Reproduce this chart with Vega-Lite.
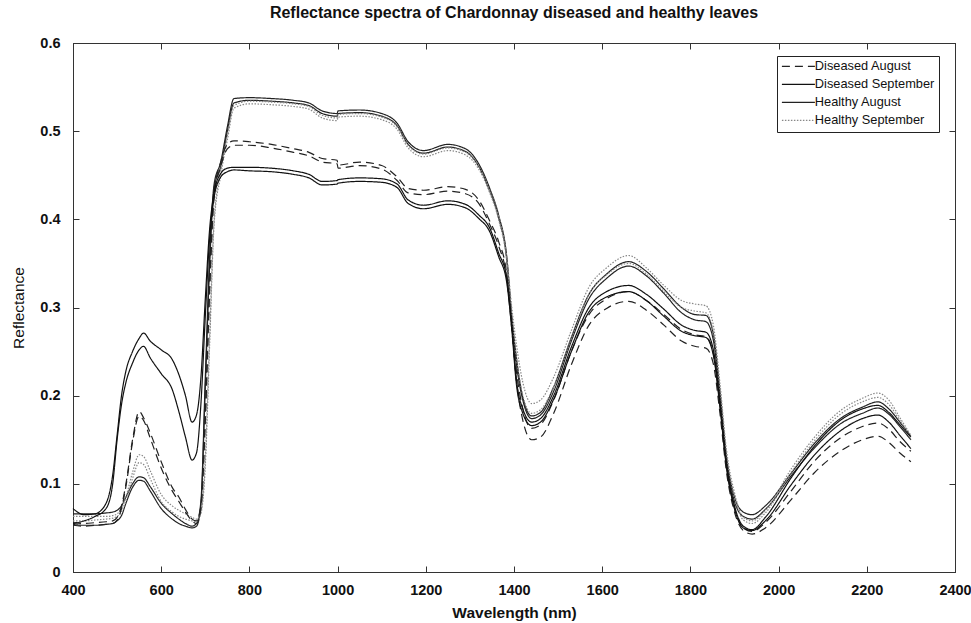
{
"$schema": "https://vega.github.io/schema/vega-lite/v6.json",
"width": 882, "height": 529,
"autosize": {"type": "none"},
"padding": {"left": 73, "top": 43, "right": 16, "bottom": 51},
"background": "white",
"title": {"text": "Reflectance spectra of Chardonnay diseased and healthy leaves", "font": "Liberation Sans", "fontSize": 16, "fontWeight": "bold", "color": "#111", "anchor": "middle", "offset": 14},
"config": {
  "view": {"stroke": "#333", "strokeWidth": 1},
  "axis": {"labelFont": "Liberation Sans", "labelFontSize": 14.5, "labelFontWeight": "bold", "labelColor": "#111", "labelFlush": false, "titleFont": "Liberation Sans", "titleFontSize": 15.5, "titleColor": "#111", "tickColor": "#333", "domainColor": "#333", "tickSize": -6, "grid": false}
},
"datasets": {"spectra": [
{"w":400,"s":"Healthy August","r":1,"v":0.066},{"w":425,"s":"Healthy August","r":1,"v":0.066},{"w":450,"s":"Healthy August","r":1,"v":0.066},{"w":475,"s":"Healthy August","r":1,"v":0.067},{"w":490,"s":"Healthy August","r":1,"v":0.068},{"w":500,"s":"Healthy August","r":1,"v":0.07},{"w":510,"s":"Healthy August","r":1,"v":0.075},{"w":520,"s":"Healthy August","r":1,"v":0.085},{"w":535,"s":"Healthy August","r":1,"v":0.1},{"w":550,"s":"Healthy August","r":1,"v":0.108},{"w":560,"s":"Healthy August","r":1,"v":0.107},{"w":575,"s":"Healthy August","r":1,"v":0.097},{"w":600,"s":"Healthy August","r":1,"v":0.078},{"w":625,"s":"Healthy August","r":1,"v":0.066},{"w":640,"s":"Healthy August","r":1,"v":0.06},{"w":655,"s":"Healthy August","r":1,"v":0.055},{"w":670,"s":"Healthy August","r":1,"v":0.052},{"w":680,"s":"Healthy August","r":1,"v":0.055},{"w":690,"s":"Healthy August","r":1,"v":0.08},{"w":700,"s":"Healthy August","r":1,"v":0.22},{"w":710,"s":"Healthy August","r":1,"v":0.36},{"w":720,"s":"Healthy August","r":1,"v":0.44},{"w":735,"s":"Healthy August","r":1,"v":0.465},{"w":750,"s":"Healthy August","r":1,"v":0.505},{"w":765,"s":"Healthy August","r":1,"v":0.537},{"w":800,"s":"Healthy August","r":1,"v":0.538},{"w":850,"s":"Healthy August","r":1,"v":0.537},{"w":900,"s":"Healthy August","r":1,"v":0.535},{"w":935,"s":"Healthy August","r":1,"v":0.532},{"w":965,"s":"Healthy August","r":1,"v":0.523},{"w":999,"s":"Healthy August","r":1,"v":0.52},{"w":1001,"s":"Healthy August","r":1,"v":0.523},{"w":1050,"s":"Healthy August","r":1,"v":0.524},{"w":1100,"s":"Healthy August","r":1,"v":0.52},{"w":1135,"s":"Healthy August","r":1,"v":0.509},{"w":1160,"s":"Healthy August","r":1,"v":0.488},{"w":1195,"s":"Healthy August","r":1,"v":0.478},{"w":1250,"s":"Healthy August","r":1,"v":0.485},{"w":1290,"s":"Healthy August","r":1,"v":0.48},{"w":1320,"s":"Healthy August","r":1,"v":0.463},{"w":1345,"s":"Healthy August","r":1,"v":0.435},{"w":1365,"s":"Healthy August","r":1,"v":0.405},{"w":1383,"s":"Healthy August","r":1,"v":0.36},{"w":1395,"s":"Healthy August","r":1,"v":0.29},{"w":1405,"s":"Healthy August","r":1,"v":0.245},{"w":1420,"s":"Healthy August","r":1,"v":0.198},{"w":1440,"s":"Healthy August","r":1,"v":0.177},{"w":1460,"s":"Healthy August","r":1,"v":0.181},{"w":1490,"s":"Healthy August","r":1,"v":0.21},{"w":1530,"s":"Healthy August","r":1,"v":0.266},{"w":1570,"s":"Healthy August","r":1,"v":0.315},{"w":1610,"s":"Healthy August","r":1,"v":0.338},{"w":1660,"s":"Healthy August","r":1,"v":0.352},{"w":1700,"s":"Healthy August","r":1,"v":0.341},{"w":1740,"s":"Healthy August","r":1,"v":0.321},{"w":1780,"s":"Healthy August","r":1,"v":0.3},{"w":1810,"s":"Healthy August","r":1,"v":0.292},{"w":1835,"s":"Healthy August","r":1,"v":0.291},{"w":1852,"s":"Healthy August","r":1,"v":0.27},{"w":1867,"s":"Healthy August","r":1,"v":0.205},{"w":1882,"s":"Healthy August","r":1,"v":0.13},{"w":1900,"s":"Healthy August","r":1,"v":0.085},{"w":1920,"s":"Healthy August","r":1,"v":0.068},{"w":1940,"s":"Healthy August","r":1,"v":0.065},{"w":1970,"s":"Healthy August","r":1,"v":0.075},{"w":2030,"s":"Healthy August","r":1,"v":0.113},{"w":2080,"s":"Healthy August","r":1,"v":0.145},{"w":2140,"s":"Healthy August","r":1,"v":0.174},{"w":2190,"s":"Healthy August","r":1,"v":0.187},{"w":2225,"s":"Healthy August","r":1,"v":0.193},{"w":2250,"s":"Healthy August","r":1,"v":0.185},{"w":2275,"s":"Healthy August","r":1,"v":0.17},{"w":2300,"s":"Healthy August","r":1,"v":0.154},
{"w":400,"s":"Healthy August","r":2,"v":0.054},{"w":425,"s":"Healthy August","r":2,"v":0.053},{"w":450,"s":"Healthy August","r":2,"v":0.053},{"w":475,"s":"Healthy August","r":2,"v":0.054},{"w":490,"s":"Healthy August","r":2,"v":0.055},{"w":500,"s":"Healthy August","r":2,"v":0.058},{"w":510,"s":"Healthy August","r":2,"v":0.064},{"w":520,"s":"Healthy August","r":2,"v":0.078},{"w":535,"s":"Healthy August","r":2,"v":0.096},{"w":550,"s":"Healthy August","r":2,"v":0.104},{"w":560,"s":"Healthy August","r":2,"v":0.103},{"w":575,"s":"Healthy August","r":2,"v":0.092},{"w":600,"s":"Healthy August","r":2,"v":0.072},{"w":625,"s":"Healthy August","r":2,"v":0.06},{"w":640,"s":"Healthy August","r":2,"v":0.055},{"w":655,"s":"Healthy August","r":2,"v":0.052},{"w":670,"s":"Healthy August","r":2,"v":0.05},{"w":680,"s":"Healthy August","r":2,"v":0.052},{"w":690,"s":"Healthy August","r":2,"v":0.075},{"w":700,"s":"Healthy August","r":2,"v":0.21},{"w":710,"s":"Healthy August","r":2,"v":0.35},{"w":720,"s":"Healthy August","r":2,"v":0.435},{"w":735,"s":"Healthy August","r":2,"v":0.46},{"w":750,"s":"Healthy August","r":2,"v":0.5},{"w":765,"s":"Healthy August","r":2,"v":0.532},{"w":800,"s":"Healthy August","r":2,"v":0.535},{"w":850,"s":"Healthy August","r":2,"v":0.534},{"w":900,"s":"Healthy August","r":2,"v":0.532},{"w":935,"s":"Healthy August","r":2,"v":0.529},{"w":965,"s":"Healthy August","r":2,"v":0.52},{"w":999,"s":"Healthy August","r":2,"v":0.517},{"w":1001,"s":"Healthy August","r":2,"v":0.52},{"w":1050,"s":"Healthy August","r":2,"v":0.521},{"w":1100,"s":"Healthy August","r":2,"v":0.517},{"w":1135,"s":"Healthy August","r":2,"v":0.506},{"w":1160,"s":"Healthy August","r":2,"v":0.485},{"w":1195,"s":"Healthy August","r":2,"v":0.475},{"w":1250,"s":"Healthy August","r":2,"v":0.482},{"w":1290,"s":"Healthy August","r":2,"v":0.477},{"w":1320,"s":"Healthy August","r":2,"v":0.46},{"w":1345,"s":"Healthy August","r":2,"v":0.432},{"w":1365,"s":"Healthy August","r":2,"v":0.402},{"w":1383,"s":"Healthy August","r":2,"v":0.357},{"w":1395,"s":"Healthy August","r":2,"v":0.287},{"w":1405,"s":"Healthy August","r":2,"v":0.238},{"w":1420,"s":"Healthy August","r":2,"v":0.195},{"w":1440,"s":"Healthy August","r":2,"v":0.174},{"w":1460,"s":"Healthy August","r":2,"v":0.178},{"w":1490,"s":"Healthy August","r":2,"v":0.205},{"w":1530,"s":"Healthy August","r":2,"v":0.262},{"w":1570,"s":"Healthy August","r":2,"v":0.31},{"w":1610,"s":"Healthy August","r":2,"v":0.333},{"w":1660,"s":"Healthy August","r":2,"v":0.347},{"w":1700,"s":"Healthy August","r":2,"v":0.336},{"w":1740,"s":"Healthy August","r":2,"v":0.316},{"w":1780,"s":"Healthy August","r":2,"v":0.294},{"w":1810,"s":"Healthy August","r":2,"v":0.286},{"w":1835,"s":"Healthy August","r":2,"v":0.284},{"w":1852,"s":"Healthy August","r":2,"v":0.263},{"w":1867,"s":"Healthy August","r":2,"v":0.2},{"w":1882,"s":"Healthy August","r":2,"v":0.128},{"w":1900,"s":"Healthy August","r":2,"v":0.08},{"w":1920,"s":"Healthy August","r":2,"v":0.063},{"w":1940,"s":"Healthy August","r":2,"v":0.06},{"w":1970,"s":"Healthy August","r":2,"v":0.071},{"w":2030,"s":"Healthy August","r":2,"v":0.11},{"w":2080,"s":"Healthy August","r":2,"v":0.14},{"w":2140,"s":"Healthy August","r":2,"v":0.168},{"w":2190,"s":"Healthy August","r":2,"v":0.18},{"w":2225,"s":"Healthy August","r":2,"v":0.186},{"w":2250,"s":"Healthy August","r":2,"v":0.179},{"w":2275,"s":"Healthy August","r":2,"v":0.165},{"w":2300,"s":"Healthy August","r":2,"v":0.15},
{"w":400,"s":"Healthy September","r":1,"v":0.063},{"w":425,"s":"Healthy September","r":1,"v":0.063},{"w":450,"s":"Healthy September","r":1,"v":0.063},{"w":475,"s":"Healthy September","r":1,"v":0.063},{"w":490,"s":"Healthy September","r":1,"v":0.064},{"w":500,"s":"Healthy September","r":1,"v":0.066},{"w":510,"s":"Healthy September","r":1,"v":0.072},{"w":520,"s":"Healthy September","r":1,"v":0.085},{"w":535,"s":"Healthy September","r":1,"v":0.113},{"w":550,"s":"Healthy September","r":1,"v":0.133},{"w":560,"s":"Healthy September","r":1,"v":0.131},{"w":575,"s":"Healthy September","r":1,"v":0.115},{"w":600,"s":"Healthy September","r":1,"v":0.088},{"w":625,"s":"Healthy September","r":1,"v":0.075},{"w":640,"s":"Healthy September","r":1,"v":0.07},{"w":655,"s":"Healthy September","r":1,"v":0.066},{"w":670,"s":"Healthy September","r":1,"v":0.062},{"w":680,"s":"Healthy September","r":1,"v":0.06},{"w":690,"s":"Healthy September","r":1,"v":0.068},{"w":700,"s":"Healthy September","r":1,"v":0.13},{"w":710,"s":"Healthy September","r":1,"v":0.27},{"w":720,"s":"Healthy September","r":1,"v":0.4},{"w":735,"s":"Healthy September","r":1,"v":0.455},{"w":750,"s":"Healthy September","r":1,"v":0.495},{"w":765,"s":"Healthy September","r":1,"v":0.529},{"w":800,"s":"Healthy September","r":1,"v":0.534},{"w":850,"s":"Healthy September","r":1,"v":0.533},{"w":900,"s":"Healthy September","r":1,"v":0.531},{"w":935,"s":"Healthy September","r":1,"v":0.528},{"w":965,"s":"Healthy September","r":1,"v":0.518},{"w":999,"s":"Healthy September","r":1,"v":0.515},{"w":1001,"s":"Healthy September","r":1,"v":0.519},{"w":1050,"s":"Healthy September","r":1,"v":0.52},{"w":1100,"s":"Healthy September","r":1,"v":0.516},{"w":1135,"s":"Healthy September","r":1,"v":0.505},{"w":1160,"s":"Healthy September","r":1,"v":0.484},{"w":1195,"s":"Healthy September","r":1,"v":0.474},{"w":1250,"s":"Healthy September","r":1,"v":0.481},{"w":1290,"s":"Healthy September","r":1,"v":0.476},{"w":1320,"s":"Healthy September","r":1,"v":0.46},{"w":1345,"s":"Healthy September","r":1,"v":0.433},{"w":1365,"s":"Healthy September","r":1,"v":0.404},{"w":1383,"s":"Healthy September","r":1,"v":0.36},{"w":1395,"s":"Healthy September","r":1,"v":0.3},{"w":1405,"s":"Healthy September","r":1,"v":0.26},{"w":1420,"s":"Healthy September","r":1,"v":0.215},{"w":1440,"s":"Healthy September","r":1,"v":0.191},{"w":1460,"s":"Healthy September","r":1,"v":0.195},{"w":1490,"s":"Healthy September","r":1,"v":0.221},{"w":1530,"s":"Healthy September","r":1,"v":0.274},{"w":1570,"s":"Healthy September","r":1,"v":0.323},{"w":1610,"s":"Healthy September","r":1,"v":0.345},{"w":1660,"s":"Healthy September","r":1,"v":0.359},{"w":1700,"s":"Healthy September","r":1,"v":0.345},{"w":1740,"s":"Healthy September","r":1,"v":0.325},{"w":1780,"s":"Healthy September","r":1,"v":0.308},{"w":1810,"s":"Healthy September","r":1,"v":0.304},{"w":1835,"s":"Healthy September","r":1,"v":0.302},{"w":1852,"s":"Healthy September","r":1,"v":0.28},{"w":1867,"s":"Healthy September","r":1,"v":0.214},{"w":1882,"s":"Healthy September","r":1,"v":0.138},{"w":1900,"s":"Healthy September","r":1,"v":0.09},{"w":1920,"s":"Healthy September","r":1,"v":0.062},{"w":1940,"s":"Healthy September","r":1,"v":0.058},{"w":1970,"s":"Healthy September","r":1,"v":0.07},{"w":2030,"s":"Healthy September","r":1,"v":0.118},{"w":2080,"s":"Healthy September","r":1,"v":0.152},{"w":2140,"s":"Healthy September","r":1,"v":0.183},{"w":2190,"s":"Healthy September","r":1,"v":0.197},{"w":2225,"s":"Healthy September","r":1,"v":0.203},{"w":2250,"s":"Healthy September","r":1,"v":0.195},{"w":2275,"s":"Healthy September","r":1,"v":0.175},{"w":2300,"s":"Healthy September","r":1,"v":0.155},
{"w":400,"s":"Healthy September","r":2,"v":0.058},{"w":425,"s":"Healthy September","r":2,"v":0.058},{"w":450,"s":"Healthy September","r":2,"v":0.059},{"w":475,"s":"Healthy September","r":2,"v":0.06},{"w":490,"s":"Healthy September","r":2,"v":0.061},{"w":500,"s":"Healthy September","r":2,"v":0.063},{"w":510,"s":"Healthy September","r":2,"v":0.068},{"w":520,"s":"Healthy September","r":2,"v":0.08},{"w":535,"s":"Healthy September","r":2,"v":0.106},{"w":550,"s":"Healthy September","r":2,"v":0.124},{"w":560,"s":"Healthy September","r":2,"v":0.122},{"w":575,"s":"Healthy September","r":2,"v":0.106},{"w":600,"s":"Healthy September","r":2,"v":0.08},{"w":625,"s":"Healthy September","r":2,"v":0.068},{"w":640,"s":"Healthy September","r":2,"v":0.063},{"w":655,"s":"Healthy September","r":2,"v":0.06},{"w":670,"s":"Healthy September","r":2,"v":0.058},{"w":680,"s":"Healthy September","r":2,"v":0.057},{"w":690,"s":"Healthy September","r":2,"v":0.066},{"w":700,"s":"Healthy September","r":2,"v":0.12},{"w":710,"s":"Healthy September","r":2,"v":0.26},{"w":720,"s":"Healthy September","r":2,"v":0.395},{"w":735,"s":"Healthy September","r":2,"v":0.45},{"w":750,"s":"Healthy September","r":2,"v":0.49},{"w":765,"s":"Healthy September","r":2,"v":0.526},{"w":800,"s":"Healthy September","r":2,"v":0.531},{"w":850,"s":"Healthy September","r":2,"v":0.53},{"w":900,"s":"Healthy September","r":2,"v":0.528},{"w":935,"s":"Healthy September","r":2,"v":0.525},{"w":965,"s":"Healthy September","r":2,"v":0.515},{"w":999,"s":"Healthy September","r":2,"v":0.512},{"w":1001,"s":"Healthy September","r":2,"v":0.516},{"w":1050,"s":"Healthy September","r":2,"v":0.517},{"w":1100,"s":"Healthy September","r":2,"v":0.513},{"w":1135,"s":"Healthy September","r":2,"v":0.502},{"w":1160,"s":"Healthy September","r":2,"v":0.481},{"w":1195,"s":"Healthy September","r":2,"v":0.471},{"w":1250,"s":"Healthy September","r":2,"v":0.478},{"w":1290,"s":"Healthy September","r":2,"v":0.473},{"w":1320,"s":"Healthy September","r":2,"v":0.457},{"w":1345,"s":"Healthy September","r":2,"v":0.43},{"w":1365,"s":"Healthy September","r":2,"v":0.4},{"w":1383,"s":"Healthy September","r":2,"v":0.355},{"w":1395,"s":"Healthy September","r":2,"v":0.29},{"w":1405,"s":"Healthy September","r":2,"v":0.245},{"w":1420,"s":"Healthy September","r":2,"v":0.2},{"w":1440,"s":"Healthy September","r":2,"v":0.18},{"w":1460,"s":"Healthy September","r":2,"v":0.184},{"w":1490,"s":"Healthy September","r":2,"v":0.21},{"w":1530,"s":"Healthy September","r":2,"v":0.265},{"w":1570,"s":"Healthy September","r":2,"v":0.315},{"w":1610,"s":"Healthy September","r":2,"v":0.337},{"w":1660,"s":"Healthy September","r":2,"v":0.35},{"w":1700,"s":"Healthy September","r":2,"v":0.338},{"w":1740,"s":"Healthy September","r":2,"v":0.318},{"w":1780,"s":"Healthy September","r":2,"v":0.3},{"w":1810,"s":"Healthy September","r":2,"v":0.296},{"w":1835,"s":"Healthy September","r":2,"v":0.294},{"w":1852,"s":"Healthy September","r":2,"v":0.272},{"w":1867,"s":"Healthy September","r":2,"v":0.208},{"w":1882,"s":"Healthy September","r":2,"v":0.133},{"w":1900,"s":"Healthy September","r":2,"v":0.085},{"w":1920,"s":"Healthy September","r":2,"v":0.059},{"w":1940,"s":"Healthy September","r":2,"v":0.055},{"w":1970,"s":"Healthy September","r":2,"v":0.067},{"w":2030,"s":"Healthy September","r":2,"v":0.114},{"w":2080,"s":"Healthy September","r":2,"v":0.148},{"w":2140,"s":"Healthy September","r":2,"v":0.179},{"w":2190,"s":"Healthy September","r":2,"v":0.193},{"w":2225,"s":"Healthy September","r":2,"v":0.198},{"w":2250,"s":"Healthy September","r":2,"v":0.19},{"w":2275,"s":"Healthy September","r":2,"v":0.172},{"w":2300,"s":"Healthy September","r":2,"v":0.153},
{"w":400,"s":"Diseased August","r":1,"v":0.056},{"w":425,"s":"Diseased August","r":1,"v":0.055},{"w":450,"s":"Diseased August","r":1,"v":0.056},{"w":475,"s":"Diseased August","r":1,"v":0.057},{"w":490,"s":"Diseased August","r":1,"v":0.058},{"w":500,"s":"Diseased August","r":1,"v":0.062},{"w":510,"s":"Diseased August","r":1,"v":0.075},{"w":520,"s":"Diseased August","r":1,"v":0.1},{"w":535,"s":"Diseased August","r":1,"v":0.15},{"w":550,"s":"Diseased August","r":1,"v":0.182},{"w":560,"s":"Diseased August","r":1,"v":0.175},{"w":575,"s":"Diseased August","r":1,"v":0.158},{"w":600,"s":"Diseased August","r":1,"v":0.125},{"w":625,"s":"Diseased August","r":1,"v":0.096},{"w":640,"s":"Diseased August","r":1,"v":0.085},{"w":655,"s":"Diseased August","r":1,"v":0.071},{"w":670,"s":"Diseased August","r":1,"v":0.06},{"w":680,"s":"Diseased August","r":1,"v":0.058},{"w":690,"s":"Diseased August","r":1,"v":0.075},{"w":700,"s":"Diseased August","r":1,"v":0.18},{"w":710,"s":"Diseased August","r":1,"v":0.33},{"w":720,"s":"Diseased August","r":1,"v":0.43},{"w":735,"s":"Diseased August","r":1,"v":0.465},{"w":750,"s":"Diseased August","r":1,"v":0.485},{"w":765,"s":"Diseased August","r":1,"v":0.489},{"w":800,"s":"Diseased August","r":1,"v":0.488},{"w":850,"s":"Diseased August","r":1,"v":0.485},{"w":900,"s":"Diseased August","r":1,"v":0.48},{"w":935,"s":"Diseased August","r":1,"v":0.476},{"w":965,"s":"Diseased August","r":1,"v":0.469},{"w":999,"s":"Diseased August","r":1,"v":0.467},{"w":1001,"s":"Diseased August","r":1,"v":0.4615},{"w":1050,"s":"Diseased August","r":1,"v":0.465},{"w":1100,"s":"Diseased August","r":1,"v":0.461},{"w":1135,"s":"Diseased August","r":1,"v":0.448},{"w":1160,"s":"Diseased August","r":1,"v":0.435},{"w":1195,"s":"Diseased August","r":1,"v":0.433},{"w":1250,"s":"Diseased August","r":1,"v":0.437},{"w":1290,"s":"Diseased August","r":1,"v":0.434},{"w":1320,"s":"Diseased August","r":1,"v":0.422},{"w":1345,"s":"Diseased August","r":1,"v":0.398},{"w":1365,"s":"Diseased August","r":1,"v":0.375},{"w":1383,"s":"Diseased August","r":1,"v":0.34},{"w":1395,"s":"Diseased August","r":1,"v":0.28},{"w":1405,"s":"Diseased August","r":1,"v":0.23},{"w":1420,"s":"Diseased August","r":1,"v":0.185},{"w":1440,"s":"Diseased August","r":1,"v":0.163},{"w":1460,"s":"Diseased August","r":1,"v":0.167},{"w":1490,"s":"Diseased August","r":1,"v":0.195},{"w":1530,"s":"Diseased August","r":1,"v":0.25},{"w":1570,"s":"Diseased August","r":1,"v":0.292},{"w":1610,"s":"Diseased August","r":1,"v":0.31},{"w":1660,"s":"Diseased August","r":1,"v":0.318},{"w":1700,"s":"Diseased August","r":1,"v":0.308},{"w":1740,"s":"Diseased August","r":1,"v":0.292},{"w":1780,"s":"Diseased August","r":1,"v":0.275},{"w":1810,"s":"Diseased August","r":1,"v":0.269},{"w":1835,"s":"Diseased August","r":1,"v":0.267},{"w":1852,"s":"Diseased August","r":1,"v":0.248},{"w":1867,"s":"Diseased August","r":1,"v":0.19},{"w":1882,"s":"Diseased August","r":1,"v":0.12},{"w":1900,"s":"Diseased August","r":1,"v":0.072},{"w":1920,"s":"Diseased August","r":1,"v":0.05},{"w":1940,"s":"Diseased August","r":1,"v":0.046},{"w":1970,"s":"Diseased August","r":1,"v":0.056},{"w":2030,"s":"Diseased August","r":1,"v":0.093},{"w":2080,"s":"Diseased August","r":1,"v":0.125},{"w":2140,"s":"Diseased August","r":1,"v":0.152},{"w":2190,"s":"Diseased August","r":1,"v":0.165},{"w":2225,"s":"Diseased August","r":1,"v":0.169},{"w":2250,"s":"Diseased August","r":1,"v":0.162},{"w":2275,"s":"Diseased August","r":1,"v":0.148},{"w":2300,"s":"Diseased August","r":1,"v":0.137},
{"w":400,"s":"Diseased August","r":2,"v":0.053},{"w":425,"s":"Diseased August","r":2,"v":0.052},{"w":450,"s":"Diseased August","r":2,"v":0.053},{"w":475,"s":"Diseased August","r":2,"v":0.054},{"w":490,"s":"Diseased August","r":2,"v":0.055},{"w":500,"s":"Diseased August","r":2,"v":0.059},{"w":510,"s":"Diseased August","r":2,"v":0.072},{"w":520,"s":"Diseased August","r":2,"v":0.097},{"w":535,"s":"Diseased August","r":2,"v":0.147},{"w":550,"s":"Diseased August","r":2,"v":0.177},{"w":560,"s":"Diseased August","r":2,"v":0.172},{"w":575,"s":"Diseased August","r":2,"v":0.152},{"w":600,"s":"Diseased August","r":2,"v":0.118},{"w":625,"s":"Diseased August","r":2,"v":0.092},{"w":640,"s":"Diseased August","r":2,"v":0.08},{"w":655,"s":"Diseased August","r":2,"v":0.068},{"w":670,"s":"Diseased August","r":2,"v":0.058},{"w":680,"s":"Diseased August","r":2,"v":0.055},{"w":690,"s":"Diseased August","r":2,"v":0.072},{"w":700,"s":"Diseased August","r":2,"v":0.17},{"w":710,"s":"Diseased August","r":2,"v":0.32},{"w":720,"s":"Diseased August","r":2,"v":0.425},{"w":735,"s":"Diseased August","r":2,"v":0.46},{"w":750,"s":"Diseased August","r":2,"v":0.48},{"w":765,"s":"Diseased August","r":2,"v":0.484},{"w":800,"s":"Diseased August","r":2,"v":0.484},{"w":850,"s":"Diseased August","r":2,"v":0.481},{"w":900,"s":"Diseased August","r":2,"v":0.476},{"w":935,"s":"Diseased August","r":2,"v":0.472},{"w":965,"s":"Diseased August","r":2,"v":0.465},{"w":999,"s":"Diseased August","r":2,"v":0.463},{"w":1001,"s":"Diseased August","r":2,"v":0.458},{"w":1050,"s":"Diseased August","r":2,"v":0.461},{"w":1100,"s":"Diseased August","r":2,"v":0.457},{"w":1135,"s":"Diseased August","r":2,"v":0.444},{"w":1160,"s":"Diseased August","r":2,"v":0.43},{"w":1195,"s":"Diseased August","r":2,"v":0.428},{"w":1250,"s":"Diseased August","r":2,"v":0.432},{"w":1290,"s":"Diseased August","r":2,"v":0.429},{"w":1320,"s":"Diseased August","r":2,"v":0.418},{"w":1345,"s":"Diseased August","r":2,"v":0.394},{"w":1365,"s":"Diseased August","r":2,"v":0.37},{"w":1383,"s":"Diseased August","r":2,"v":0.335},{"w":1395,"s":"Diseased August","r":2,"v":0.275},{"w":1405,"s":"Diseased August","r":2,"v":0.22},{"w":1420,"s":"Diseased August","r":2,"v":0.172},{"w":1440,"s":"Diseased August","r":2,"v":0.15},{"w":1460,"s":"Diseased August","r":2,"v":0.153},{"w":1490,"s":"Diseased August","r":2,"v":0.18},{"w":1530,"s":"Diseased August","r":2,"v":0.235},{"w":1570,"s":"Diseased August","r":2,"v":0.28},{"w":1610,"s":"Diseased August","r":2,"v":0.299},{"w":1660,"s":"Diseased August","r":2,"v":0.307},{"w":1700,"s":"Diseased August","r":2,"v":0.297},{"w":1740,"s":"Diseased August","r":2,"v":0.28},{"w":1780,"s":"Diseased August","r":2,"v":0.262},{"w":1810,"s":"Diseased August","r":2,"v":0.256},{"w":1835,"s":"Diseased August","r":2,"v":0.254},{"w":1852,"s":"Diseased August","r":2,"v":0.236},{"w":1867,"s":"Diseased August","r":2,"v":0.18},{"w":1882,"s":"Diseased August","r":2,"v":0.113},{"w":1900,"s":"Diseased August","r":2,"v":0.068},{"w":1920,"s":"Diseased August","r":2,"v":0.047},{"w":1940,"s":"Diseased August","r":2,"v":0.043},{"w":1970,"s":"Diseased August","r":2,"v":0.05},{"w":2030,"s":"Diseased August","r":2,"v":0.083},{"w":2080,"s":"Diseased August","r":2,"v":0.112},{"w":2140,"s":"Diseased August","r":2,"v":0.137},{"w":2190,"s":"Diseased August","r":2,"v":0.15},{"w":2225,"s":"Diseased August","r":2,"v":0.154},{"w":2250,"s":"Diseased August","r":2,"v":0.147},{"w":2275,"s":"Diseased August","r":2,"v":0.135},{"w":2300,"s":"Diseased August","r":2,"v":0.125},
{"w":400,"s":"Diseased September","r":1,"v":0.072},{"w":425,"s":"Diseased September","r":1,"v":0.065},{"w":450,"s":"Diseased September","r":1,"v":0.066},{"w":475,"s":"Diseased September","r":1,"v":0.078},{"w":490,"s":"Diseased September","r":1,"v":0.11},{"w":500,"s":"Diseased September","r":1,"v":0.155},{"w":510,"s":"Diseased September","r":1,"v":0.2},{"w":520,"s":"Diseased September","r":1,"v":0.228},{"w":535,"s":"Diseased September","r":1,"v":0.25},{"w":550,"s":"Diseased September","r":1,"v":0.265},{"w":560,"s":"Diseased September","r":1,"v":0.271},{"w":575,"s":"Diseased September","r":1,"v":0.262},{"w":600,"s":"Diseased September","r":1,"v":0.252},{"w":625,"s":"Diseased September","r":1,"v":0.241},{"w":640,"s":"Diseased September","r":1,"v":0.224},{"w":655,"s":"Diseased September","r":1,"v":0.2},{"w":670,"s":"Diseased September","r":1,"v":0.17},{"w":680,"s":"Diseased September","r":1,"v":0.178},{"w":690,"s":"Diseased September","r":1,"v":0.22},{"w":700,"s":"Diseased September","r":1,"v":0.31},{"w":710,"s":"Diseased September","r":1,"v":0.39},{"w":720,"s":"Diseased September","r":1,"v":0.43},{"w":735,"s":"Diseased September","r":1,"v":0.452},{"w":750,"s":"Diseased September","r":1,"v":0.458},{"w":765,"s":"Diseased September","r":1,"v":0.459},{"w":800,"s":"Diseased September","r":1,"v":0.459},{"w":850,"s":"Diseased September","r":1,"v":0.458},{"w":900,"s":"Diseased September","r":1,"v":0.455},{"w":935,"s":"Diseased September","r":1,"v":0.451},{"w":965,"s":"Diseased September","r":1,"v":0.443},{"w":999,"s":"Diseased September","r":1,"v":0.444},{"w":1001,"s":"Diseased September","r":1,"v":0.445},{"w":1050,"s":"Diseased September","r":1,"v":0.447},{"w":1100,"s":"Diseased September","r":1,"v":0.446},{"w":1135,"s":"Diseased September","r":1,"v":0.44},{"w":1160,"s":"Diseased September","r":1,"v":0.422},{"w":1195,"s":"Diseased September","r":1,"v":0.416},{"w":1250,"s":"Diseased September","r":1,"v":0.421},{"w":1290,"s":"Diseased September","r":1,"v":0.417},{"w":1320,"s":"Diseased September","r":1,"v":0.405},{"w":1345,"s":"Diseased September","r":1,"v":0.39},{"w":1365,"s":"Diseased September","r":1,"v":0.362},{"w":1383,"s":"Diseased September","r":1,"v":0.335},{"w":1395,"s":"Diseased September","r":1,"v":0.28},{"w":1405,"s":"Diseased September","r":1,"v":0.22},{"w":1420,"s":"Diseased September","r":1,"v":0.185},{"w":1440,"s":"Diseased September","r":1,"v":0.17},{"w":1460,"s":"Diseased September","r":1,"v":0.174},{"w":1490,"s":"Diseased September","r":1,"v":0.2},{"w":1530,"s":"Diseased September","r":1,"v":0.255},{"w":1570,"s":"Diseased September","r":1,"v":0.3},{"w":1610,"s":"Diseased September","r":1,"v":0.318},{"w":1660,"s":"Diseased September","r":1,"v":0.325},{"w":1700,"s":"Diseased September","r":1,"v":0.315},{"w":1740,"s":"Diseased September","r":1,"v":0.298},{"w":1780,"s":"Diseased September","r":1,"v":0.28},{"w":1810,"s":"Diseased September","r":1,"v":0.274},{"w":1835,"s":"Diseased September","r":1,"v":0.272},{"w":1852,"s":"Diseased September","r":1,"v":0.252},{"w":1867,"s":"Diseased September","r":1,"v":0.192},{"w":1882,"s":"Diseased September","r":1,"v":0.122},{"w":1900,"s":"Diseased September","r":1,"v":0.075},{"w":1920,"s":"Diseased September","r":1,"v":0.052},{"w":1940,"s":"Diseased September","r":1,"v":0.048},{"w":1970,"s":"Diseased September","r":1,"v":0.062},{"w":2030,"s":"Diseased September","r":1,"v":0.108},{"w":2080,"s":"Diseased September","r":1,"v":0.142},{"w":2140,"s":"Diseased September","r":1,"v":0.172},{"w":2190,"s":"Diseased September","r":1,"v":0.185},{"w":2225,"s":"Diseased September","r":1,"v":0.189},{"w":2250,"s":"Diseased September","r":1,"v":0.181},{"w":2275,"s":"Diseased September","r":1,"v":0.167},{"w":2300,"s":"Diseased September","r":1,"v":0.153},
{"w":400,"s":"Diseased September","r":2,"v":0.055},{"w":425,"s":"Diseased September","r":2,"v":0.058},{"w":450,"s":"Diseased September","r":2,"v":0.063},{"w":475,"s":"Diseased September","r":2,"v":0.072},{"w":490,"s":"Diseased September","r":2,"v":0.1},{"w":500,"s":"Diseased September","r":2,"v":0.15},{"w":510,"s":"Diseased September","r":2,"v":0.19},{"w":520,"s":"Diseased September","r":2,"v":0.215},{"w":535,"s":"Diseased September","r":2,"v":0.237},{"w":550,"s":"Diseased September","r":2,"v":0.252},{"w":560,"s":"Diseased September","r":2,"v":0.256},{"w":575,"s":"Diseased September","r":2,"v":0.243},{"w":600,"s":"Diseased September","r":2,"v":0.225},{"w":625,"s":"Diseased September","r":2,"v":0.207},{"w":640,"s":"Diseased September","r":2,"v":0.182},{"w":655,"s":"Diseased September","r":2,"v":0.153},{"w":670,"s":"Diseased September","r":2,"v":0.127},{"w":680,"s":"Diseased September","r":2,"v":0.135},{"w":690,"s":"Diseased September","r":2,"v":0.19},{"w":700,"s":"Diseased September","r":2,"v":0.29},{"w":710,"s":"Diseased September","r":2,"v":0.38},{"w":720,"s":"Diseased September","r":2,"v":0.425},{"w":735,"s":"Diseased September","r":2,"v":0.448},{"w":750,"s":"Diseased September","r":2,"v":0.454},{"w":765,"s":"Diseased September","r":2,"v":0.456},{"w":800,"s":"Diseased September","r":2,"v":0.455},{"w":850,"s":"Diseased September","r":2,"v":0.454},{"w":900,"s":"Diseased September","r":2,"v":0.451},{"w":935,"s":"Diseased September","r":2,"v":0.447},{"w":965,"s":"Diseased September","r":2,"v":0.439},{"w":999,"s":"Diseased September","r":2,"v":0.44},{"w":1001,"s":"Diseased September","r":2,"v":0.441},{"w":1050,"s":"Diseased September","r":2,"v":0.443},{"w":1100,"s":"Diseased September","r":2,"v":0.442},{"w":1135,"s":"Diseased September","r":2,"v":0.436},{"w":1160,"s":"Diseased September","r":2,"v":0.418},{"w":1195,"s":"Diseased September","r":2,"v":0.412},{"w":1250,"s":"Diseased September","r":2,"v":0.417},{"w":1290,"s":"Diseased September","r":2,"v":0.413},{"w":1320,"s":"Diseased September","r":2,"v":0.401},{"w":1345,"s":"Diseased September","r":2,"v":0.386},{"w":1365,"s":"Diseased September","r":2,"v":0.358},{"w":1383,"s":"Diseased September","r":2,"v":0.33},{"w":1395,"s":"Diseased September","r":2,"v":0.275},{"w":1405,"s":"Diseased September","r":2,"v":0.215},{"w":1420,"s":"Diseased September","r":2,"v":0.18},{"w":1440,"s":"Diseased September","r":2,"v":0.166},{"w":1460,"s":"Diseased September","r":2,"v":0.17},{"w":1490,"s":"Diseased September","r":2,"v":0.196},{"w":1530,"s":"Diseased September","r":2,"v":0.25},{"w":1570,"s":"Diseased September","r":2,"v":0.295},{"w":1610,"s":"Diseased September","r":2,"v":0.312},{"w":1660,"s":"Diseased September","r":2,"v":0.318},{"w":1700,"s":"Diseased September","r":2,"v":0.308},{"w":1740,"s":"Diseased September","r":2,"v":0.29},{"w":1780,"s":"Diseased September","r":2,"v":0.273},{"w":1810,"s":"Diseased September","r":2,"v":0.268},{"w":1835,"s":"Diseased September","r":2,"v":0.266},{"w":1852,"s":"Diseased September","r":2,"v":0.246},{"w":1867,"s":"Diseased September","r":2,"v":0.187},{"w":1882,"s":"Diseased September","r":2,"v":0.118},{"w":1900,"s":"Diseased September","r":2,"v":0.072},{"w":1920,"s":"Diseased September","r":2,"v":0.05},{"w":1940,"s":"Diseased September","r":2,"v":0.047},{"w":1970,"s":"Diseased September","r":2,"v":0.058},{"w":2030,"s":"Diseased September","r":2,"v":0.1},{"w":2080,"s":"Diseased September","r":2,"v":0.132},{"w":2140,"s":"Diseased September","r":2,"v":0.16},{"w":2190,"s":"Diseased September","r":2,"v":0.174},{"w":2225,"s":"Diseased September","r":2,"v":0.178},{"w":2250,"s":"Diseased September","r":2,"v":0.17},{"w":2275,"s":"Diseased September","r":2,"v":0.155},{"w":2300,"s":"Diseased September","r":2,"v":0.14}
]},
"data": {"name": "spectra"},
"layer": [
  {
    "mark": {"type": "line", "interpolate": "monotone", "strokeWidth": 1.2},
    "encoding": {
      "x": {"field": "w", "type": "quantitative", "scale": {"domain": [400, 2400], "nice": false},
        "axis": {"orient": "bottom", "values": [400, 600, 800, 1000, 1200, 1400, 1600, 1800, 2000, 2200, 2400], "format": "d", "title": "Wavelength (nm)", "titleFontWeight": "bold", "labelPadding": 17, "titlePadding": 9}},
      "y": {"field": "v", "type": "quantitative", "scale": {"domain": [0, 0.6], "nice": false},
        "axis": {"orient": "left", "values": [0, 0.1, 0.2, 0.3, 0.4, 0.5, 0.6], "format": "~g", "title": "Reflectance", "titleFontWeight": "normal", "labelPadding": 19, "titlePadding": 13}},
      "color": {"field": "s", "type": "nominal",
        "scale": {"domain": ["Diseased August", "Diseased September", "Healthy August", "Healthy September"], "range": ["#222222", "#111111", "#222222", "#888888"]},
        "legend": {"title": null, "orient": "none", "legendX": 704, "legendY": 13, "symbolType": "M-3.3,0H3.3", "symbolSize": 100, "symbolOffset": 11, "symbolStrokeWidth": 1.2, "labelFont": "Liberation Sans", "labelFontSize": 12.8, "labelColor": "#111", "strokeColor": "#222", "fillColor": "white", "padding": 4, "rowPadding": 4, "labelOffset": 10}},
      "strokeDash": {"field": "s", "type": "nominal",
        "scale": {"domain": ["Diseased August", "Diseased September", "Healthy August", "Healthy September"], "range": [[8, 5], [1, 0], [1, 0], [1.5, 1.5]]},
        "legend": {"title": null, "orient": "none", "legendX": 704, "legendY": 13, "symbolType": "M-3.3,0H3.3", "symbolSize": 100, "symbolOffset": 11, "symbolStrokeWidth": 1.2, "labelFont": "Liberation Sans", "labelFontSize": 12.8, "labelColor": "#111", "strokeColor": "#222", "fillColor": "white", "padding": 4, "rowPadding": 4, "labelOffset": 10}},
      "detail": {"field": "r", "type": "nominal"}
    }
  },
  {
    "mark": {"type": "line", "opacity": 0},
    "encoding": {
      "x": {"field": "w", "type": "quantitative", "axis": {"orient": "top", "values": [400, 600, 800, 1000, 1200, 1400, 1600, 1800, 2000, 2200, 2400], "labels": false, "title": null}},
      "y": {"field": "v", "type": "quantitative", "axis": {"orient": "right", "values": [0, 0.1, 0.2, 0.3, 0.4, 0.5, 0.6], "labels": false, "title": null}},
      "detail": [{"field": "s", "type": "nominal"}, {"field": "r", "type": "nominal"}]
    }
  }
],
"resolve": {"axis": {"x": "independent", "y": "independent"}}
}
